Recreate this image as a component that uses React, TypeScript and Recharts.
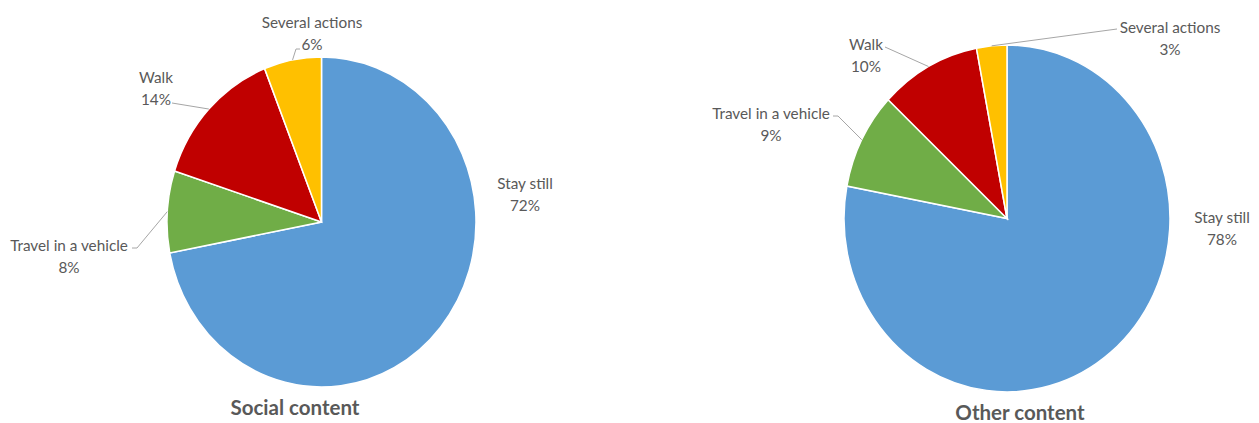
import { PieChart, Pie, Cell } from "recharts";

const categories = ["Stay still", "Travel in a vehicle", "Walk", "Several actions"];
const socialValues = [72, 8, 14, 6];
const otherValues = [78, 9, 10, 3];
const colors = ["#5B9BD5", "#70AD47", "#C00000", "#FFC000"];

const socialData = categories.map((name, i) => ({ name, value: socialValues[i] }));
const otherData = categories.map((name, i) => ({ name, value: otherValues[i] }));

// pies in the picture are slightly squashed horizontally
type PieLayout = {
  cls: string;
  cx: number;
  cy: number;
  r: number;
  stretch: number;
  // label centre and leader start points, relative to the pie centre
  labels: { at: [number, number]; line: [number, number][] }[];
};

const leftLayout: PieLayout = {
  cls: "pie-social",
  cx: 321.5,
  cy: 222,
  r: 154.5,
  stretch: 1.068,
  labels: [
    { at: [203.5, -39], line: [] },
    { at: [-252.5, 23], line: [[-189.5, 26], [-184.5, 26]] },
    { at: [-165.5, -145], line: [[-149.5, -119]] },
    { at: [-9.5, -200], line: [[-21.5, -173], [-25.5, -173]] },
  ],
};

const rightLayout: PieLayout = {
  cls: "pie-other",
  cx: 1007,
  cy: 218.5,
  r: 163,
  stretch: 1.064,
  labels: [
    { at: [215, -1.5], line: [] },
    { at: [-236, -105.5], line: [[-174, -102.5], [-169, -102.5]] },
    { at: [-141, -174.5], line: [[-122, -171.5]] },
    { at: [163, -191.5], line: [[110, -189.5]] },
  ],
};

const textColor = "#595959";
const font = "Lato, 'Open Sans', sans-serif";
const RAD = Math.PI / 180;

function makeLabel(layout: PieLayout) {
  return (props: any) => {
    const { cx, cy, midAngle, outerRadius, index, value } = props;
    const name = props.payload?.name ?? props.name;
    const spec = layout.labels[index];
    const lx = cx + spec.at[0];
    const ly = cy + spec.at[1];
    const ex = cx + outerRadius * Math.cos(-midAngle * RAD);
    const ey = cy + outerRadius * layout.stretch * Math.sin(-midAngle * RAD);
    const pts = spec.line.map(([dx, dy]) => `${cx + dx},${cy + dy}`);
    return (
      <g key={`lbl-${index}`}>
        {pts.length > 0 && (
          <polyline points={[...pts, `${ex},${ey}`].join(" ")} fill="none" stroke="#A6A6A6" strokeWidth={1} />
        )}
        <text x={lx} y={ly} textAnchor="middle" dominantBaseline="central" fill={textColor} fontSize={15.3} fontFamily={font}>
          {name}
        </text>
        <text x={lx} y={ly + 22} textAnchor="middle" dominantBaseline="central" fill={textColor} fontSize={15.3} fontFamily={font}>
          {`${value}%`}
        </text>
      </g>
    );
  };
}

const css = `
body { margin: 0; }
.pie-social path.recharts-sector { transform-box: view-box; transform-origin: ${leftLayout.cx}px ${leftLayout.cy}px; transform: scaleY(${leftLayout.stretch}); }
.pie-other path.recharts-sector { transform-box: view-box; transform-origin: ${rightLayout.cx}px ${rightLayout.cy}px; transform: scaleY(${rightLayout.stretch}); }
`;

const titleStyle = {
  position: "absolute" as const,
  transform: "translate(-50%, -50%)",
  fontFamily: font,
  fontWeight: 700,
  fontSize: 20.5,
  lineHeight: 1,
  color: textColor,
  whiteSpace: "nowrap" as const,
};

export default function App() {
  return (
    <div style={{ position: "relative", width: 1259, height: 423, background: "#fff" }}>
      <style>{css}</style>
      <PieChart width={1259} height={423} margin={{ top: 0, right: 0, bottom: 0, left: 0 }}>
        {[
          { data: socialData, layout: leftLayout },
          { data: otherData, layout: rightLayout },
        ].map(({ data, layout }) => (
          <Pie
            key={layout.cls}
            className={layout.cls}
            data={data}
            dataKey="value"
            nameKey="name"
            cx={layout.cx}
            cy={layout.cy}
            outerRadius={layout.r}
            startAngle={90}
            endAngle={-270}
            stroke="#fff"
            strokeWidth={1.5}
            label={makeLabel(layout)}
            labelLine={false}
            isAnimationActive={false}
          >
            {data.map((d, i) => (
              <Cell key={d.name} fill={colors[i]} />
            ))}
          </Pie>
        ))}
      </PieChart>
      <div style={{ ...titleStyle, left: 295, top: 407 }}>Social content</div>
      <div style={{ ...titleStyle, left: 1020, top: 412 }}>Other content</div>
    </div>
  );
}
